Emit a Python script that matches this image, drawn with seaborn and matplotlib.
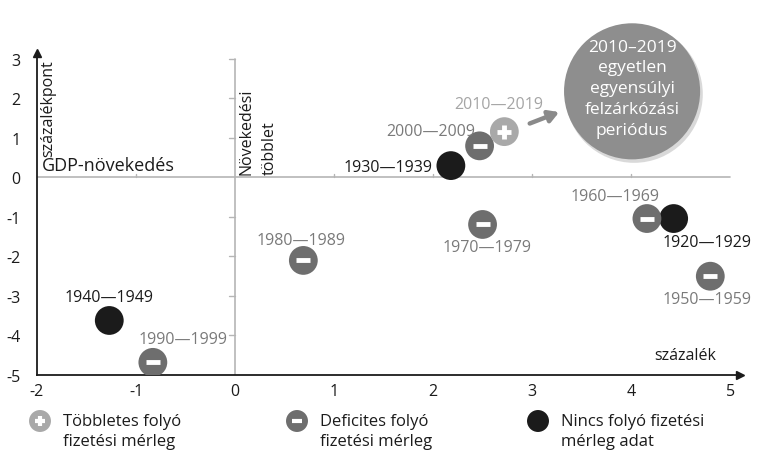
import numpy as np
import pandas as pd
import seaborn as sns
import matplotlib.pyplot as plt

# %% adatok
periods = ['1920—1929', '1930—1939', '1940—1949', '1950—1959', '1960—1969',
           '1970—1979', '1980—1989', '1990—1999', '2000—2009', '2010—2019']
gdp_growth = [4.43, 2.18, -1.27, 4.80, 4.16, 2.50, 0.69, -0.83, 2.47, 2.72]
growth_surplus = [-1.04, 0.30, -3.62, -2.50, -1.04, -1.19, -2.10, -4.68, 0.80, 1.16]
ca_type = ['nincs', 'nincs', 'nincs', 'deficit', 'deficit',
           'deficit', 'deficit', 'deficit', 'deficit', 'tobblet']

x_ticks = [-2, -1, 0, 1, 2, 3, 4, 5]
y_ticks = [-5, -4, -3, -2, -1, 0, 1, 2, 3]

legend_labels = ['Többletes folyó\nfizetési mérleg',
                 'Deficites folyó\nfizetési mérleg',
                 'Nincs folyó fizetési\nmérleg adat']
bubble_text = '2010–2019\negyetlen\negyensúlyi\nfelzárkózási\nperiódus'

df = pd.DataFrame({'period': periods, 'x': gdp_growth, 'y': growth_surplus, 'tipus': ca_type})

# %% stílus
colors = {'tobblet': '#a9a9a9', 'deficit': '#6e6e6e', 'nincs': '#1b1b1b'}
label_colors = {'tobblet': '#a5a5a5', 'deficit': '#7a7a7a', 'nincs': '#1b1b1b'}
# címke eltolások (pont), igazítás
offsets = {
    '1920—1929': (24, -17, 'center'),
    '1930—1939': (-13, -1, 'right'),
    '1940—1949': (0, 17, 'center'),
    '1950—1959': (-2, -16.5, 'center'),
    '1960—1969': (-23, 16, 'center'),
    '1970—1979': (3, -16.5, 'center'),
    '1980—1989': (-2, 15, 'center'),
    '1990—1999': (22, 16.5, 'center'),
    '2000—2009': (-35, 11, 'center'),
    '2010—2019': (-4, 20, 'center'),
}

sns.set_style("white")
plt.rcParams['font.family'] = ['Open Sans', 'DejaVu Sans']
plt.rcParams['axes.unicode_minus'] = False

fig = plt.figure(figsize=(7.57, 4.56), dpi=100)
ax = fig.add_axes([37 / 757, 80 / 456, 703 / 757, 322 / 456])

# pontok
sns.scatterplot(data=df, x='x', y='y', hue='tipus', palette=colors, s=430,
                edgecolor='none', legend=False, ax=ax, zorder=4)
d = df[df.tipus == 'deficit']
ax.scatter(d.x, d.y, marker='_', s=110, linewidths=3.5, color='white', zorder=5)
t = df[df.tipus == 'tobblet']
ax.scatter(t.x, t.y, marker='+', s=110, linewidths=3.5, color='white', zorder=5)

ax.set_xlim(-2, 5.1)
ax.set_ylim(-5, 3.15)
ax.set_xlabel('')
ax.set_ylabel('')

# szürke nullvonalak + kis osztások
ax.plot([-2, 5], [0, 0], color='#b5b5b5', lw=1.2, zorder=1)
ax.plot([0, 0], [-5, 3], color='#b5b5b5', lw=1.2, zorder=1)
for xt in x_ticks:
    if -2 < xt < 5 and xt != 0:
        ax.plot([xt, xt], [0, 0.09], color='#b5b5b5', lw=1, zorder=1)
for yt in y_ticks:
    if yt > -5 and yt != 0:
        ax.plot([-0.06, 0], [yt, yt], color='#b5b5b5', lw=1, zorder=1)

# fekete tengelyek nyíllal
for s in ['top', 'right']:
    ax.spines[s].set_visible(False)
ax.spines['left'].set_color('#1b1b1b')
ax.spines['bottom'].set_color('#1b1b1b')
ax.spines['left'].set_linewidth(1.3)
ax.spines['bottom'].set_linewidth(1.3)
ax.plot(1, 0, '>', color='#1b1b1b', ms=6, transform=ax.transAxes, clip_on=False)
ax.plot(0, 1, '^', color='#1b1b1b', ms=6, transform=ax.transAxes, clip_on=False)

ax.set_xticks(x_ticks)
ax.set_yticks(y_ticks)
ax.tick_params(axis='both', length=0, labelsize=11.5, colors='#1b1b1b')
ax.tick_params(axis='y', pad=12)
ax.tick_params(axis='x', pad=6)

for _, r in df.iterrows():
    dx, dy, ha = offsets[r.period]
    ax.annotate(r.period, (r.x, r.y), xytext=(dx, dy), textcoords='offset points',
                ha=ha, va='center', fontsize=11.5, color=label_colors[r.tipus], zorder=6)

# tengelyfeliratok
ax.text(-1.89, 3.0, 'százalékpont', rotation=90, ha='center', va='top', fontsize=11.5, color='#1b1b1b')
ax.text(-1.95, 0.1, 'GDP-növekedés', ha='left', va='bottom', fontsize=13, color='#1b1b1b')
ax.text(0.04, 0.1, 'Növekedési\ntöbblet', rotation=90, ha='left', va='bottom',
        fontsize=11.5, color='#1b1b1b', linespacing=1.55)
ax.text(4.55, -4.5, 'százalék', ha='center', va='center', fontsize=11.5, color='#1b1b1b')

# buborék + nyíl
bx, by = 4.01, 2.18
ax.scatter([bx + 0.02], [by - 0.07], s=9800, color='#6a6a6a', alpha=0.25,
           edgecolor='none', clip_on=False, zorder=6)
ax.scatter([bx], [by], s=9600, color='#8e8e8e', edgecolor='none', clip_on=False, zorder=7)
ax.text(bx, 2.26, bubble_text, ha='center', va='center', color='white',
        fontsize=12.5, linespacing=1.4, zorder=8)
ax.annotate('', xy=(3.3, 1.68), xytext=(2.95, 1.34),
            arrowprops=dict(arrowstyle='-|>,head_length=0.6,head_width=0.35',
                            color='#8a8a8a', lw=3.2), zorder=6)

# jelmagyarázat
legend_types = ['tobblet', 'deficit', 'nincs']
icon_x = [40, 297, 538]
for lbl, tp, ix in zip(legend_labels, legend_types, icon_x):
    fx, fy = ix / 757, 1 - 422 / 456
    ax.scatter([fx], [fy], s=250, color=colors[tp], edgecolor='none',
               transform=fig.transFigure, clip_on=False)
    if tp == 'deficit':
        ax.scatter([fx], [fy], marker='_', s=60, linewidths=3, color='white',
                   transform=fig.transFigure, clip_on=False)
    if tp == 'tobblet':
        ax.scatter([fx], [fy], marker='+', s=60, linewidths=3, color='white',
                   transform=fig.transFigure, clip_on=False)
    fig.text((ix + 23) / 757, 1 - 432 / 456, lbl, ha='left', va='center',
             fontsize=12, color='#1b1b1b', linespacing=1.3)

fig.savefig('out.png', dpi=100)
